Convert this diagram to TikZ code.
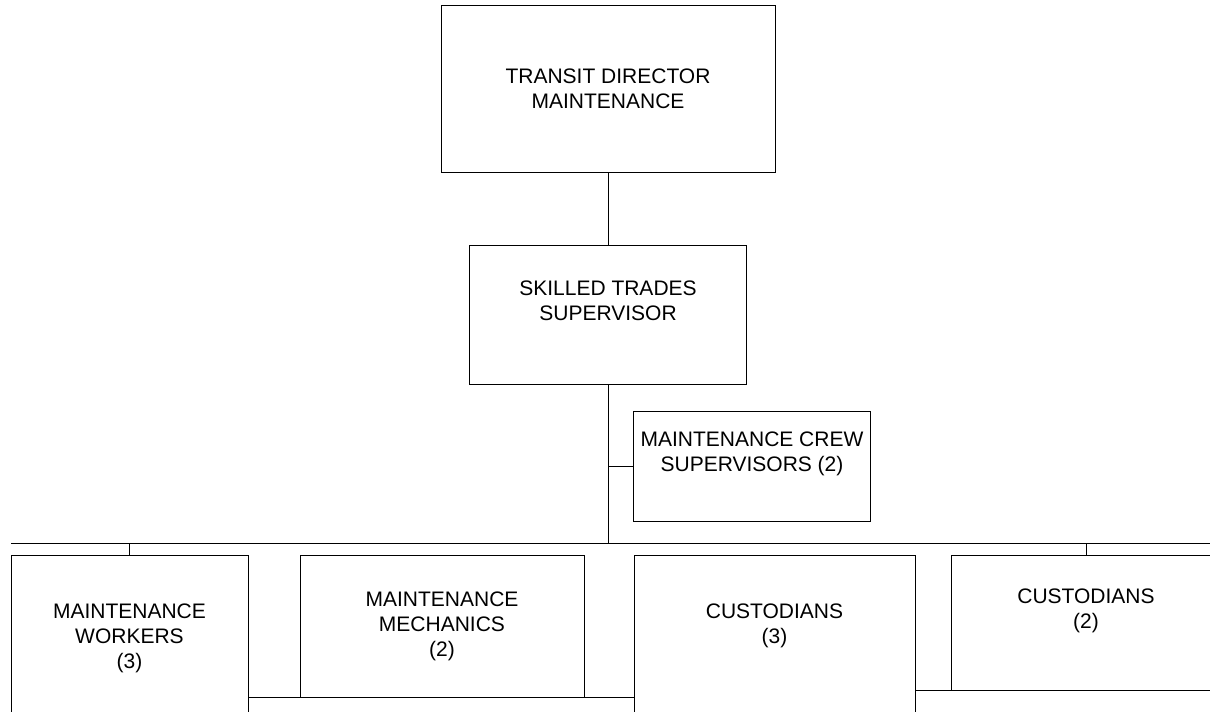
\documentclass[tikz,border=0pt]{standalone}
\usepackage{fontspec}
\setmainfont{Liberation Sans}
\usetikzlibrary{positioning}

\begin{document}
\begin{tikzpicture}[
      org_box/.style={
         rectangle,
         draw=black,
         line width=0.5pt,
         align=center,
         inner sep=0pt,
         outer sep=0pt,
         font=\fontsize{10.5}{12.5}\selectfont},
      org_gap/.style={
         text depth=14pt},
      org_line/.style={
         line width=0.5pt}
]
      \useasboundingbox (0,0) rectangle (605pt,-356pt);

      %director and supervisors
      \node[org_box,minimum width=167pt,minimum height=83.5pt] (dir) at (304pt,-44.25pt) {TRANSIT DIRECTOR\\MAINTENANCE};
      \node[org_box,org_gap,minimum width=138.5pt,minimum height=69.5pt,below=36.5pt of dir] (sts) {SKILLED TRADES\\SUPERVISOR};
      \node[org_box,org_gap,minimum width=118.5pt,minimum height=55pt,anchor=north west] (mcs) at ([xshift=12.75pt,yshift=-13.5pt]sts.south) {MAINTENANCE CREW\\SUPERVISORS (2)};

      %staff
      \node[org_box,minimum width=118.5pt,minimum height=83pt,anchor=north west] (mw) at (5.5pt,-277.5pt) {MAINTENANCE\\WORKERS\\(3)};
      \node[org_box,minimum width=142pt,minimum height=71pt,anchor=north west] (mm) at ([xshift=26pt]mw.north east) {MAINTENANCE\\MECHANICS\\(2)};
      \node[org_box,org_gap,minimum width=140.5pt,minimum height=83pt,anchor=north west] (cu3) at ([xshift=25pt]mm.north east) {CUSTODIANS\\(3)};
      \node[org_box,org_gap,minimum width=135pt,minimum height=67.5pt,anchor=north west] (cu2) at ([xshift=18pt]cu3.north east) {CUSTODIANS\\(2)};

      \coordinate (bus) at ([yshift=-79.5pt]sts.south);
      \coordinate (bus_end) at (615pt,0);

      \draw[org_line] (dir) -- (sts);
      \draw[org_line] (sts) -- (bus);
      \draw[org_line] (sts.south |- mcs.west) -- (mcs.west);
      \draw[org_line] (mw.west |- bus) -- (bus_end |- bus);
      \draw[org_line] (mw.north |- bus) -- (mw.north);
      \draw[org_line] (cu2.north |- bus) -- (cu2.north);
      \draw[org_line] (mw.east |- mm.south) -- (cu3.west |- mm.south);
      \draw[org_line] (cu3.east |- cu2.south) -- (bus_end |- cu2.south);

\end{tikzpicture}
\end{document}
